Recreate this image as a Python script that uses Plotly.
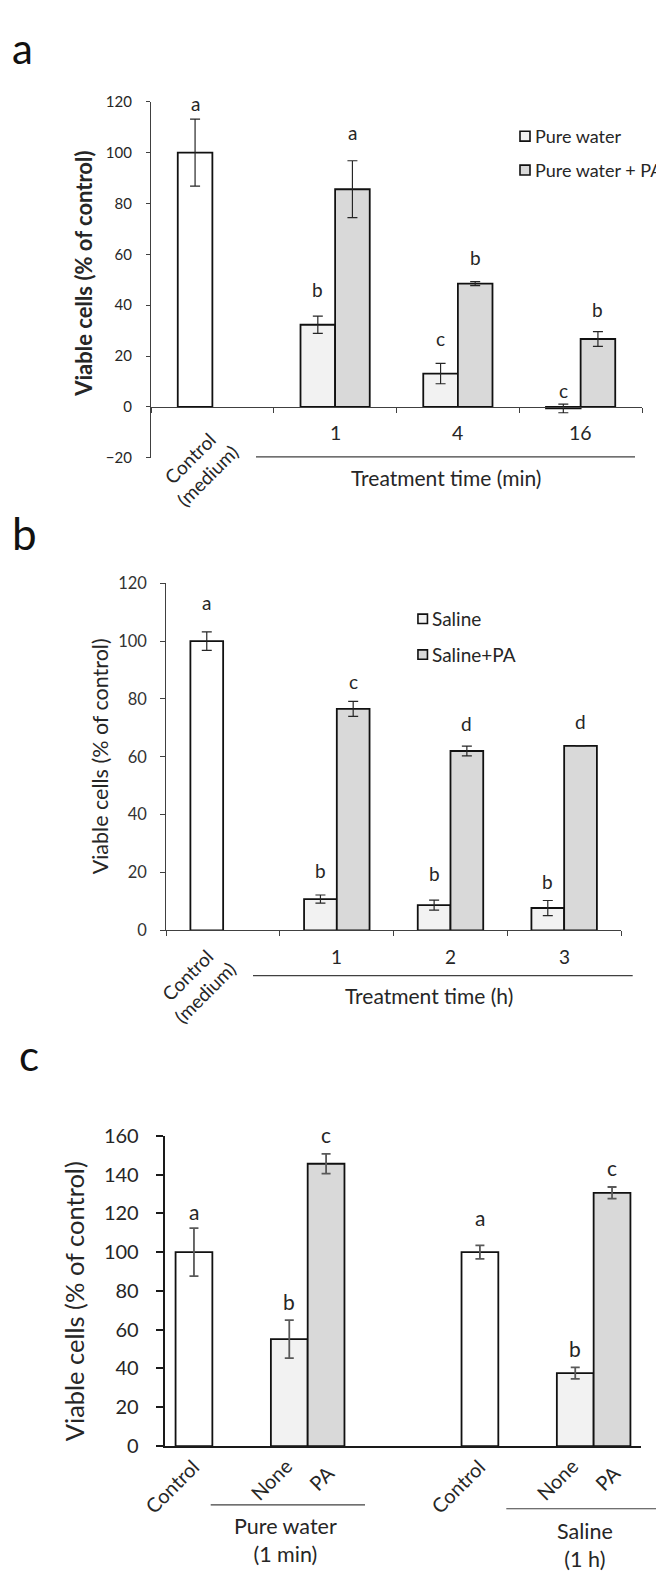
import plotly.graph_objects as go

W, H = 664, 1580
FONT = "Lato"

# ---------------- Data ----------------
# Panel a
a_categories = ["Control (medium)", "1 min", "4 min", "16 min"]
a_tick_text = ["", "1", "4", "16"]
a_water = [100.0, 32.3, 13.1, -0.6]
a_water_err = [13.2, 3.4, 4.0, 1.7]
a_water_pa = [None, 85.6, 48.5, 26.7]
a_water_pa_err = [0, 11.2, 0.8, 2.9]
a_letters_water = ["a", "b", "c", "c"]
a_letters_water_y = [119.4, 46.0, 26.9, 6.3]
a_letters_pa = [None, "a", "b", "b"]
a_letters_pa_y = [None, 107.8, 58.8, 38.2]
a_series_names = ["Pure water", "Pure water + PA"]
a_yrange = [-20, 120]

# Panel b
b_categories = ["Control (medium)", "1 h", "2 h", "3 h"]
b_tick_text = ["", "1", "2", "3"]
b_saline = [100.0, 10.8, 8.7, 7.7]
b_saline_err = [3.2, 1.4, 1.7, 2.6]
b_saline_pa = [None, 76.6, 62.0, 63.8]
b_saline_pa_err = [0, 2.6, 1.7, 0]
b_letters_saline = ["a", "b", "b", "b"]
b_letters_saline_y = [113.2, 20.7, 19.5, 17.0]
b_letters_pa = [None, "c", "d", "d"]
b_letters_pa_y = [None, 85.9, 71.5, 72.1]
b_series_names = ["Saline", "Saline+PA"]
b_yrange = [0, 120]

# Panel c
c_categories = ["Control (water)", "Pure water (1 min)", "spacer", "Control (saline)", "Saline (1 h)"]
c_none = [100.0, 55.1, None, 100.0, 37.6]
c_none_err = [12.4, 9.8, 0, 3.5, 3.0]
c_pa = [None, 145.6, None, None, 130.6]
c_pa_err = [0, 5.1, 0, 0, 3.0]
c_letters_none = ["a", "b", None, "a", "b"]
c_letters_none_y = [121.1, 74.7, None, 118.0, 50.2]
c_letters_pa = [None, "c", None, None, "c"]
c_letters_pa_y = [None, 160.5, None, None, 143.9]
c_bar_labels_none = ["Control", "None", None, "Control", "None"]
c_bar_labels_pa = [None, "PA", None, None, "PA"]
c_group_labels = ["Pure water<br>(1 min)", "Saline<br>(1 h)"]
c_yrange = [0, 160]

y_title = "Viable cells (% of control)"

# ---------------- Helpers ----------------
def px(x):
    return x / W

def py(y):
    return 1 - y / H

WHITE, LIGHT, MID = "#ffffff", "#f2f2f2", "#d9d9d9"
TXT = "#262626"

fig = go.Figure()
annotations = []
shapes = []


def add_pair(cats, s1, e1, s2, e2, w, xa, ya, ecolor, ethick, ewidth):
    colors1 = [WHITE if c.startswith("Control") else LIGHT for c in cats]
    fig.add_trace(go.Bar(
        x=cats, y=s1, width=w, offset=-w, xaxis=xa, yaxis=ya,
        marker=dict(color=colors1, line=dict(color="#111111", width=1.8)),
        error_y=dict(type="data", array=e1, visible=True, color=ecolor,
                     thickness=ethick, width=ewidth),
        showlegend=False))
    fig.add_trace(go.Bar(
        x=cats, y=s2, width=w, offset=0, xaxis=xa, yaxis=ya,
        marker=dict(color=MID, line=dict(color="#111111", width=1.8)),
        error_y=dict(type="data", array=e2, visible=True, color=ecolor,
                     thickness=ethick, width=ewidth),
        showlegend=False))


def add_letters(letters, ys, w, side, xref, ya, yrange, size):
    lo, hi = yrange
    for i, (t, y) in enumerate(zip(letters, ys)):
        if t is None:
            continue
        annotations.append(dict(
            x=i - w / 2 if side == 0 else i + w / 2, y=(y - lo) / (hi - lo),
            xref=xref, yref=ya + " domain",
            text=t, showarrow=False, xanchor="center", yanchor="middle",
            font=dict(family=FONT, size=size, color=TXT)))


def text(x, y, t, size, angle=0, xanchor="center", yanchor="middle", color=TXT):
    annotations.append(dict(
        x=px(x), y=py(y), xref="paper", yref="paper", text=t, showarrow=False,
        textangle=angle, xanchor=xanchor, yanchor=yanchor,
        font=dict(family=FONT, size=size, color=color)))


def hline(x0, x1, y, color="#404040", width=1.2):
    shapes.append(dict(type="line", xref="paper", yref="paper",
                       x0=px(x0), x1=px(x1), y0=py(y), y1=py(y),
                       line=dict(color=color, width=width)))


def legend_item(xc, yc, size, fill, label, fsize):
    shapes.append(dict(type="rect", xref="paper", yref="paper",
                       x0=px(xc - size / 2), x1=px(xc + size / 2),
                       y0=py(yc + size / 2), y1=py(yc - size / 2),
                       fillcolor=fill, line=dict(color="#111111", width=1.6)))
    text(xc + size / 2 + 3, yc, label, fsize, xanchor="left")


# ---------------- Panel a ----------------
wa = 0.282
add_pair(a_categories, a_water, a_water_err, a_water_pa, a_water_pa_err,
         wa, "x", "y", "#262626", 1.2, 5)
add_letters(a_letters_water, a_letters_water_y, wa, 0, "x", "y", a_yrange, 19)
add_letters(a_letters_pa, a_letters_pa_y, wa, 1, "x", "y", a_yrange, 19)
for i, t in enumerate(a_tick_text):
    if t:
        annotations.append(dict(x=i, y=py(418.3), xref="x", yref="paper", text=t,
                                showarrow=False, xanchor="center", yanchor="middle",
                                font=dict(family=FONT, size=19.5, color=TXT)))
text(190.5, 452.5, "Control<br>(medium)", 19, angle=-45)
text(438, 463.3, "Treatment time (min)", 21)
hline(248, 627, 442.5)
text(76, 256.7, "<b>" + y_title + "</b>", 22, angle=-90)
legend_item(517, 117, 10, LIGHT, a_series_names[0], 18)
legend_item(517, 151.3, 10, MID, a_series_names[1], 18)
text(2, 0, "a", 42, xanchor="left", yanchor="top", color="#111111")

# ---------------- Panel b ----------------
wb = 0.288
add_pair(b_categories, b_saline, b_saline_err, b_saline_pa, b_saline_pa_err,
         wb, "x2", "y2", "#262626", 1.2, 5)
add_letters(b_letters_saline, b_letters_saline_y, wb, 0, "x2", "y2", b_yrange, 19)
add_letters(b_letters_pa, b_letters_pa_y, wb, 1, "x2", "y2", b_yrange, 19)
for i, t in enumerate(b_tick_text):
    if t:
        annotations.append(dict(x=i, y=py(950), xref="x2", yref="paper", text=t,
                                showarrow=False, xanchor="center", yanchor="middle",
                                font=dict(family=FONT, size=19, color=TXT)))
text(188, 978, "Control<br>(medium)", 19, angle=-45)
text(421.4, 990, "Treatment time (h)", 21)
hline(245, 624.7, 969.3)
text(92, 746.7, y_title, 21.5, angle=-90)
legend_item(414.7, 607, 9.5, LIGHT, b_series_names[0], 19)
legend_item(414.7, 643.3, 9.5, MID, b_series_names[1], 19)
text(16, 520, "b", 44, color="#111111")

# ---------------- Panel c ----------------
wc = 0.386
add_pair(c_categories, c_none, c_none_err, c_pa, c_pa_err,
         wc, "x3", "y3", "#595959", 1.8, 4.5)
add_letters(c_letters_none, c_letters_none_y, wc, 0, "x3", "y3", c_yrange, 21)
add_letters(c_letters_pa, c_letters_pa_y, wc, 1, "x3", "y3", c_yrange, 21)
label_shift = {"Control": (-22, -40), "None": (-18, -33), "PA": (-5, -32)}
for labels, side in ((c_bar_labels_none, 0), (c_bar_labels_pa, 1)):
    for i, t in enumerate(labels):
        if t is None:
            continue
        dx, dy = label_shift[t]
        annotations.append(dict(
            x=i - wc / 2 if side == 0 else i + wc / 2, y=0, xref="x3", yref="y3 domain",
            text=t, showarrow=False, textangle=-45, xshift=dx, yshift=dy,
            xanchor="center", yanchor="middle",
            font=dict(family=FONT, size=20, color=TXT)))
text(277.4, 1542.5, c_group_labels[0], 21.5)
text(577, 1548, c_group_labels[1], 21.5)
hline(202.7, 357, 1506.7)
hline(498.3, 652.7, 1510.7)
text(66, 1300, y_title, 25.5, angle=-90)
text(21, 1050, "c", 42, color="#111111")

# ---------------- Axes ----------------
common_x = dict(type="category", showgrid=False, zeroline=False, showticklabels=False,
                fixedrange=True)
common_y = dict(showgrid=False, zeroline=False, ticks="outside", dtick=20,
                fixedrange=True, showline=True)

fig.update_layout(
    width=W, height=H, margin=dict(l=0, r=0, t=0, b=0),
    paper_bgcolor="white", plot_bgcolor="white", showlegend=False,
    barmode="overlay",
    xaxis=dict(common_x, domain=[px(143), px(634)], categoryorder="array",
               categoryarray=a_categories, range=[-0.5, 3.5],
               anchor="free", position=py(391.9), showline=True,
               linecolor="#404040", linewidth=1.3, ticks="outside",
               tickson="boundaries", ticklen=5, tickcolor="#404040", tickwidth=1.2),
    yaxis=dict(common_y, domain=[py(443.5), py(82)], range=a_yrange, anchor="x",
               linecolor="#404040", linewidth=1.3, ticklen=4, tickcolor="#404040",
               tickfont=dict(family=FONT, size=15, color=TXT), ticklabelstandoff=11),
    xaxis2=dict(common_x, domain=[px(158.3), px(613)], categoryorder="array",
                categoryarray=b_categories, range=[-0.5, 3.5], anchor="y2",
                showline=True, linecolor="#404040", linewidth=1.3, ticks="outside",
                tickson="boundaries", ticklen=5, tickcolor="#404040", tickwidth=1.2),
    yaxis2=dict(common_y, domain=[py(923.3), py(571)], range=b_yrange, anchor="x2",
                linecolor="#404040", linewidth=1.3, ticklen=5, tickcolor="#404040",
                tickfont=dict(family=FONT, size=16.5, color="#333333"), ticklabelstandoff=10),
    xaxis3=dict(common_x, domain=[px(156.7), px(633.3)], categoryorder="array",
                categoryarray=c_categories, range=[-0.5, 4.5], anchor="y3",
                showline=True, linecolor="#1a1a1a", linewidth=2, ticks=""),
    yaxis3=dict(common_y, domain=[py(1447), py(1132)], range=c_yrange, anchor="x3",
                linecolor="#1a1a1a", linewidth=2, ticklen=7, tickcolor="#1a1a1a",
                tickwidth=2, tickfont=dict(family=FONT, size=20, color=TXT),
                ticklabelstandoff=13),
    annotations=annotations, shapes=shapes,
)

fig.write_html("out.html")
